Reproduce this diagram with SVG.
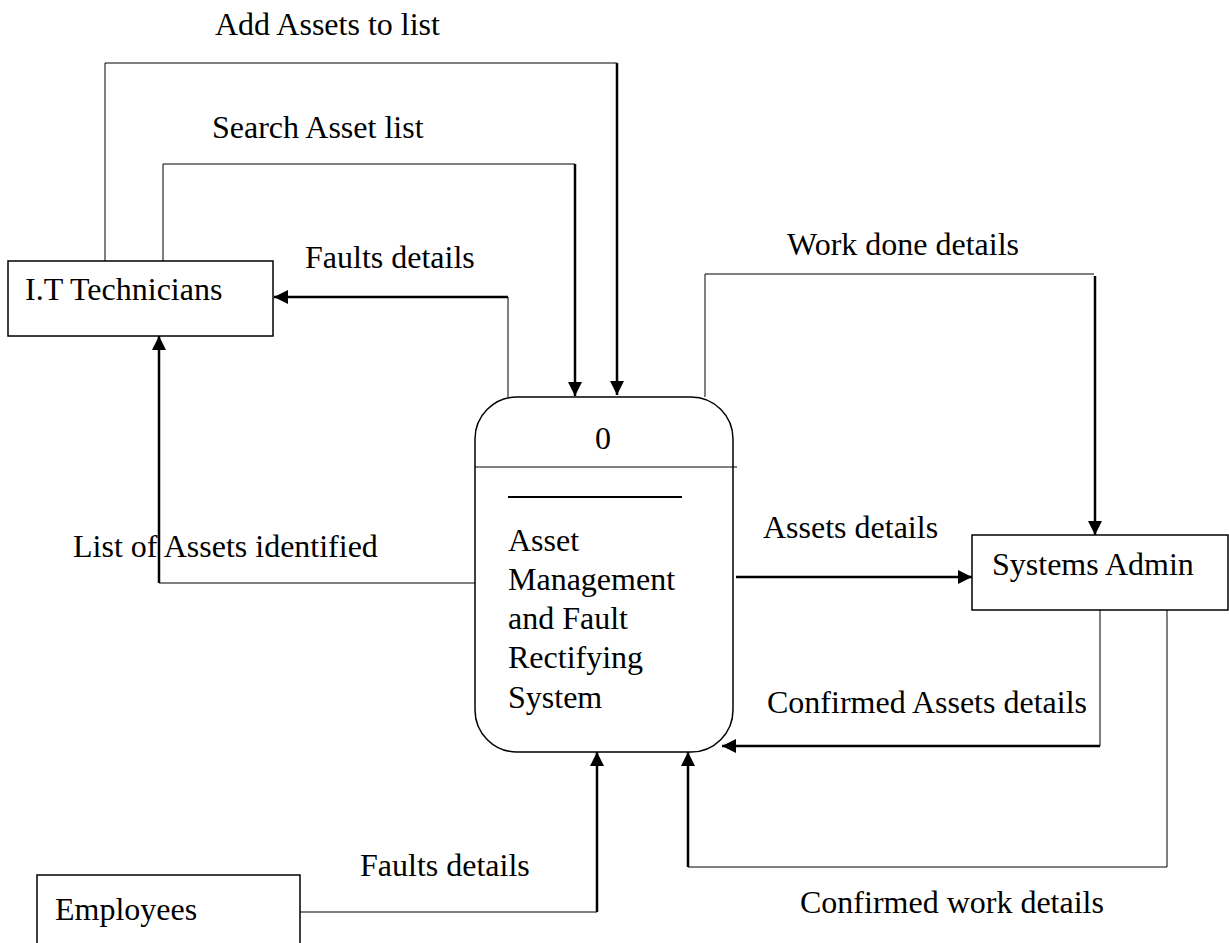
<svg xmlns="http://www.w3.org/2000/svg" width="1229" height="943" viewBox="0 0 1229 943">
  <style>
    text { font-family: "Liberation Serif", "Times New Roman", serif; font-size: 32px; fill: #000; }
    .box { fill: #fff; stroke: #000; stroke-width: 1.5; }
    .thin { fill: none; stroke: #000; stroke-width: 1; }
    .thick { fill: none; stroke: #000; stroke-width: 2.5; }
    .arrow { marker-end: url(#head); }
  </style>
  <defs>
    <marker id="head" viewBox="0 0 14 14" refX="14" refY="7" markerWidth="14" markerHeight="14" markerUnits="userSpaceOnUse" orient="auto">
      <path d="M0,0 L14,7 L0,14 Z" fill="#000"/>
    </marker>
  </defs>
  <rect width="1229" height="943" fill="#fff"/>

  <!-- data flows -->
  <g id="connectors">
    <!-- Add Assets to list -->
    <polyline class="thin" points="105,261 105,63 617,63"/>
    <line class="thick arrow" x1="617" y1="63" x2="617" y2="395"/>
    <!-- Search Asset list -->
    <polyline class="thin" points="163,261 163,164 575,164"/>
    <line class="thick arrow" x1="575" y1="164" x2="575" y2="396"/>
    <!-- Faults details to technicians -->
    <line class="thin" x1="508" y1="397" x2="508" y2="297"/>
    <line class="thick arrow" x1="508" y1="297" x2="274" y2="297"/>
    <!-- List of Assets identified -->
    <line class="thin" x1="475" y1="583" x2="159" y2="583"/>
    <line class="thick arrow" x1="159" y1="583" x2="159" y2="336"/>
    <!-- Work done details -->
    <polyline class="thin" points="705,397 705,274 1094,274"/>
    <line class="thick arrow" x1="1095" y1="276" x2="1095" y2="535"/>
    <!-- Assets details -->
    <line class="thick arrow" x1="736" y1="577" x2="972" y2="577"/>
    <!-- Confirmed Assets details -->
    <line class="thin" x1="1100" y1="610" x2="1100" y2="746"/>
    <line class="thick arrow" x1="1100" y1="746" x2="722" y2="746"/>
    <!-- Confirmed work details -->
    <polyline class="thin" points="1167,610 1167,867 688,867"/>
    <line class="thick arrow" x1="688" y1="867" x2="688" y2="752"/>
    <!-- Faults details from employees -->
    <line class="thin" x1="300" y1="912" x2="597" y2="912"/>
    <line class="thick arrow" x1="597" y1="912" x2="597" y2="752"/>
  </g>

  <!-- flow labels -->
  <g id="labels">
    <text x="215" y="35">Add Assets to list</text>
    <text x="212" y="138">Search Asset list</text>
    <text x="305" y="268">Faults details</text>
    <text x="787" y="255">Work done details</text>
    <text x="73" y="557">List of Assets identified</text>
    <text x="763" y="538">Assets details</text>
    <text x="767" y="713">Confirmed Assets details</text>
    <text x="360" y="876">Faults details</text>
    <text x="800" y="913">Confirmed work details</text>
  </g>

  <!-- external entities -->
  <g id="it-technicians">
    <rect class="box" x="8" y="261" width="265" height="75"/>
    <text x="25" y="300">I.T Technicians</text>
  </g>
  <g id="systems-admin">
    <rect class="box" x="972" y="535" width="256" height="75"/>
    <text x="992" y="575">Systems Admin</text>
  </g>
  <g id="employees">
    <rect class="box" x="37" y="875" width="263" height="80"/>
    <text x="55" y="920">Employees</text>
  </g>

  <!-- process 0 -->
  <g id="process-0">
    <rect class="box" x="475" y="397" width="258" height="355" rx="42" ry="42"/>
    <line class="thin" x1="475" y1="467" x2="737" y2="467"/>
    <text x="603" y="449" text-anchor="middle">0</text>
    <line x1="508" y1="497" x2="682" y2="497" stroke="#000" stroke-width="2"/>
    <text x="508" y="551">Asset</text>
    <text x="508" y="590">Management</text>
    <text x="508" y="629">and Fault</text>
    <text x="508" y="668">Rectifying</text>
    <text x="508" y="708">System</text>
  </g>
</svg>
